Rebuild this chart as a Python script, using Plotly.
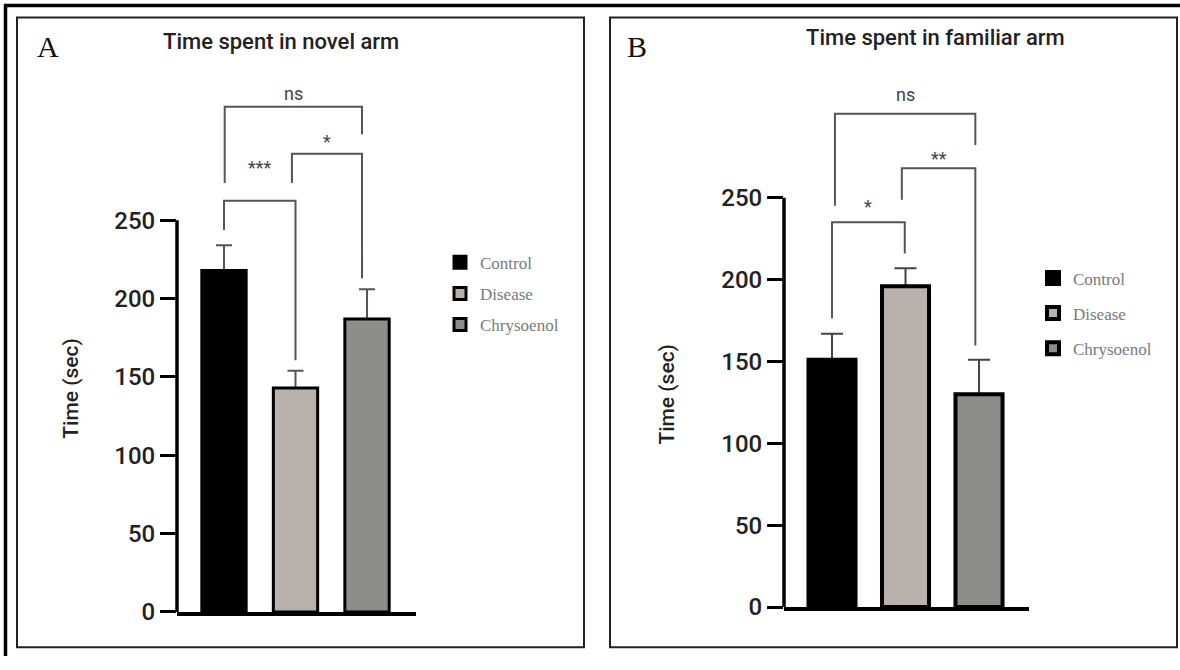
import plotly.graph_objects as go

# ---------------- data ----------------
groups = ["Control", "Disease", "Chrysoenol"]
bar_colors = ["#000000", "#b9b1ab", "#8d8d89"]

novel_mean = [218, 143, 187]
novel_sem = [16, 11, 19]

familiar_mean = [151, 196, 130]
familiar_sem = [16, 11, 21]

y_ticks = [0, 50, 100, 150, 200, 250]

# significance comparisons
novel_sig_pairs = [(0, 1), (1, 2), (0, 2)]
novel_sig_labels = ["***", "*", "ns"]
novel_sig_top = [262.5, 292.5, 322.5]
novel_sig_leg_left = [243.8, 273.8, 273.8]
novel_sig_leg_right = [160.6, 213.0, 305.0]
novel_sig_label_y = [283.8, 300.6, 331.0]

familiar_sig_pairs = [(0, 1), (1, 2), (0, 2)]
familiar_sig_labels = ["*", "**", "ns"]
familiar_sig_top = [235.0, 268.0, 301.4]
familiar_sig_leg_left = [176.4, 248.8, 245.2]
familiar_sig_leg_right = [215.9, 159.7, 282.3]
familiar_sig_label_y = [244.6, 274.0, 312.8]

W, H = 1180, 670
def px(x):
    return x / W
def py(y):
    return 1 - y / H

fig = go.Figure()

panels = [
    dict(mean=novel_mean, sem=novel_sem, xa="x", ya="y", legend="legend",
         bw=0.62, lw=3, capw=8, ecol="#555555"),
    dict(mean=familiar_mean, sem=familiar_sem, xa="x2", ya="y2", legend="legend2",
         bw=0.64, lw=4, capw=11, ecol="#444444"),
]

for p in panels:
    # error bars first (on transparent bars) so the visible bars cover the lower cap
    for i, g in enumerate(groups):
        fig.add_trace(go.Bar(
            x=[i], y=[p["mean"][i]], name=g, width=p["bw"],
            marker=dict(color="rgba(0,0,0,0)", line=dict(width=0)),
            error_y=dict(type="data", array=[p["sem"][i]], arrayminus=[0], symmetric=False,
                         color=p["ecol"], thickness=2, width=p["capw"]),
            xaxis=p["xa"], yaxis=p["ya"], legend=p["legend"], showlegend=False, hoverinfo="skip",
        ))
    for i, g in enumerate(groups):
        fig.add_trace(go.Bar(
            x=[i], y=[p["mean"][i]], name=g, width=p["bw"],
            marker=dict(color=bar_colors[i], line=dict(color="#000000", width=p["lw"])),
            xaxis=p["xa"], yaxis=p["ya"], legend=p["legend"], legendgroup=g,
            showlegend=True, hoverinfo="skip",
        ))

shapes = []
annotations = []

def add_brackets(xref, yref, pairs, labels, tops, legl, legr, laby, shifts):
    for k, (i, j) in enumerate(pairs):
        xi = i + shifts[k][0]
        xj = j + shifts[k][1]
        shapes.append(dict(type="path", xref=xref, yref=yref,
                           path=f"M {xi},{legl[k]} L {xi},{tops[k]} L {xj},{tops[k]} L {xj},{legr[k]}",
                           line=dict(color="#555555", width=2)))
        annotations.append(dict(x=(xi + xj) / 2, y=laby[k], xref=xref, yref=yref,
                                text=labels[k], showarrow=False, yanchor="middle",
                                font=dict(family="Roboto", size=18, color="#444444")))

add_brackets("x", "y", novel_sig_pairs, novel_sig_labels, novel_sig_top,
             novel_sig_leg_left, novel_sig_leg_right, novel_sig_label_y,
             [(0.0, 0.0), (-0.05, -0.07), (0.01, -0.07)])
add_brackets("x2", "y2", familiar_sig_pairs, familiar_sig_labels, familiar_sig_top,
             familiar_sig_leg_left, familiar_sig_leg_right, familiar_sig_label_y,
             [(0.0, -0.01), (-0.05, -0.05), (0.04, -0.05)])

RA, RB = 335, 315

# y-axis lines only up to 250
shapes.append(dict(type="line", xref="x domain", yref="y domain", x0=0, x1=0, y0=0, y1=250 / RA,
                   line=dict(color="#000000", width=3.5)))
shapes.append(dict(type="line", xref="x2 domain", yref="y2 domain", x0=0, x1=0, y0=0, y1=250 / RB,
                   line=dict(color="#000000", width=3.5)))

# frames
shapes.append(dict(type="line", xref="paper", yref="paper", x0=px(4), x1=1.0, y0=py(5.5), y1=py(5.5),
                   line=dict(color="#000000", width=3.5)))
shapes.append(dict(type="line", xref="paper", yref="paper", x0=px(5.5), x1=px(5.5), y0=py(4), y1=0,
                   line=dict(color="#000000", width=3.5)))
shapes.append(dict(type="rect", xref="paper", yref="paper", x0=px(17), x1=px(584), y0=py(18), y1=py(661),
                   line=dict(color="#222222", width=2)))
shapes.append(dict(type="rect", xref="paper", yref="paper", x0=px(610), x1=px(1177), y0=py(18), y1=py(661),
                   line=dict(color="#222222", width=2)))

# titles and panel letters
annotations += [
    dict(x=px(281), y=py(42), xref="paper", yref="paper", text="Time spent in novel arm",
         showarrow=False, xanchor="center", yanchor="middle",
         font=dict(family="Roboto", size=22, color="#222222", weight=500)),
    dict(x=px(935), y=py(38), xref="paper", yref="paper", text="Time spent in familiar arm",
         showarrow=False, xanchor="center", yanchor="middle",
         font=dict(family="Roboto", size=22, color="#222222", weight=500)),
    dict(x=px(48), y=py(47), xref="paper", yref="paper", text="A", showarrow=False,
         xanchor="center", yanchor="middle",
         font=dict(family="Liberation Serif", size=30, color="#111111")),
    dict(x=px(637), y=py(47), xref="paper", yref="paper", text="B", showarrow=False,
         xanchor="center", yanchor="middle",
         font=dict(family="Liberation Serif", size=30, color="#111111")),
    dict(x=px(71), y=py(397), xref="paper", yref="paper", text="Time (sec)", showarrow=False,
         textangle=-90, xanchor="center", yanchor="middle",
         font=dict(family="Roboto", size=21, color="#222222", weight=500)),
    dict(x=px(667), y=py(403), xref="paper", yref="paper", text="Time (sec)", showarrow=False,
         textangle=-90, xanchor="center", yanchor="middle",
         font=dict(family="Roboto", size=21, color="#222222", weight=500)),
]

yaxis_common = dict(tickvals=y_ticks, ticks="outside", ticklen=16, tickwidth=3, tickcolor="#000000",
                    showline=False, showgrid=False, zeroline=False,
                    tickfont=dict(family="Roboto", size=24, color="#222222", weight=500))
xaxis_common = dict(showline=True, linewidth=3.5, linecolor="#000000", showticklabels=False,
                    ticks="", showgrid=False, zeroline=False, fixedrange=True)

legend_common = dict(font=dict(family="Liberation Serif", size=17, color="#7a7a7a"),
                     bgcolor="rgba(0,0,0,0)", traceorder="grouped", xanchor="left", yanchor="top")

fig.update_layout(
    width=W, height=H, margin=dict(l=0, r=0, t=0, b=0),
    paper_bgcolor="white", plot_bgcolor="white", barmode="overlay",
    xaxis=dict(domain=[px(177), px(416)], range=[-0.657, 2.685], anchor="y", **xaxis_common),
    yaxis=dict(domain=[py(625), py(625 - RA * 1.6)], range=[0, RA], anchor="x", **yaxis_common),
    xaxis2=dict(domain=[px(784), px(1029)], range=[-0.653, 2.68], anchor="y2", **xaxis_common),
    yaxis2=dict(domain=[py(620), py(620 - RB * 1.672)], range=[0, RB], anchor="x2", **yaxis_common),
    legend=dict(x=px(440), y=py(250), tracegroupgap=6, **legend_common),
    legend2=dict(x=px(1033), y=py(266), tracegroupgap=10, **legend_common),
    shapes=shapes, annotations=annotations, showlegend=True,
)

fig.write_html(
    "out.html",
    config={"displayModeBar": False},
    post_script="document.body.style.margin='0';document.body.style.overflow='hidden';",
)
